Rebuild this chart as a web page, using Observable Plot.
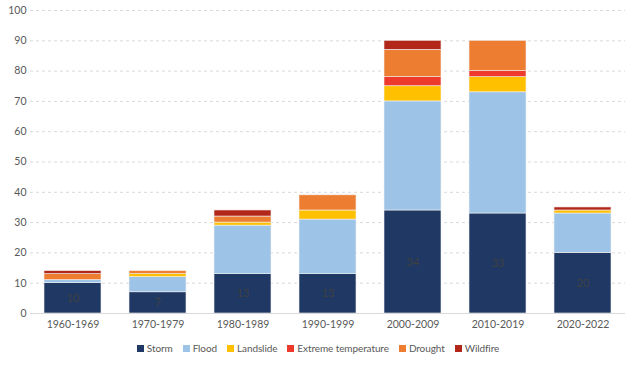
<!DOCTYPE html>
<html>
<head>
<meta charset="utf-8">
<script src="https://cdn.jsdelivr.net/npm/d3@7"></script>
<script src="https://cdn.jsdelivr.net/npm/@observablehq/plot@0.6"></script>
<style>
  html, body { margin: 0; padding: 0; background: #fff; }
  #chart { width: 636px; font-family: Lato, "Open Sans", sans-serif; }
  .legend { display: flex; justify-content: center; gap: 10px; font-size: 10px; letter-spacing: -0.1px; color: #595959; margin-top: 6px; padding-left: 0px; }
  .legend span.item { display: inline-flex; align-items: center; }
  .legend span.sw { width: 7px; height: 7px; margin-right: 3px; display: inline-block; }
</style>
</head>
<body>
<div id="chart"></div>
<script>
const decades = ["1960-1969","1970-1979","1980-1989","1990-1999","2000-2009","2010-2019","2020-2022"];
const types = ["Storm","Flood","Landslide","Extreme temperature","Drought","Wildfire"];
const colors = ["#1f3864","#9dc3e6","#ffc000","#ee3a2c","#ed7d31","#b3261a"];
const storm = [10,7,13,13,34,33,20];
const flood = [1,5,16,18,36,40,13];
const landslide = [0,1,1,3,5,5,1];
const extremeTemp = [0,0,0,0,3,2,0];
const drought = [2,1,2,5,9,10,0];
const wildfire = [1,0,2,0,3,0,1];
const yTicks = [0,10,20,30,40,50,60,70,80,90,100];

const seriesValues = [storm, flood, landslide, extremeTemp, drought, wildfire];
const rows = [];
types.forEach((t, i) => decades.forEach((d, j) => rows.push({decade: d, type: t, value: seriesValues[i][j]})));
const stormRows = decades.map((d, j) => ({decade: d, value: storm[j]}));

const chart = Plot.plot({
  width: 636,
  height: 336,
  marginTop: 10,
  marginBottom: 23,
  marginLeft: 30,
  marginRight: 11,
  style: {fontFamily: "Lato, 'Open Sans', sans-serif", fontSize: "10.5px", color: "#595959", background: "#fff"},
  x: {domain: decades, label: null, paddingInner: 0.33, paddingOuter: 0.165, tickSize: 0, tickPadding: 7},
  y: {domain: [0, 100], ticks: yTicks, label: null, tickSize: 0, tickPadding: 4},
  color: {domain: types, range: colors},
  marks: [
    Plot.gridY(yTicks.filter(v => v > 0), {stroke: "#d9d9d9", strokeOpacity: 1, strokeDasharray: "3,3"}),
    Plot.barY(rows, {x: "decade", y: "value", fill: "type", order: types, stroke: "#f2f2f2", strokeWidth: 0.6}),
    Plot.ruleY([0], {stroke: "#d9d9d9", strokeWidth: 1.2}),
    Plot.text(stormRows, {x: "decade", y: d => d.value / 2, text: d => String(d.value), fill: "#404040", fontSize: 11})
  ]
});
document.getElementById("chart").appendChild(chart);

const legend = document.createElement("div");
legend.className = "legend";
types.forEach((t, i) => {
  const item = document.createElement("span");
  item.className = "item";
  const sw = document.createElement("span");
  sw.className = "sw";
  sw.style.background = colors[i];
  item.appendChild(sw);
  item.appendChild(document.createTextNode(t));
  legend.appendChild(item);
});
document.getElementById("chart").appendChild(legend);
</script>
</body>
</html>
